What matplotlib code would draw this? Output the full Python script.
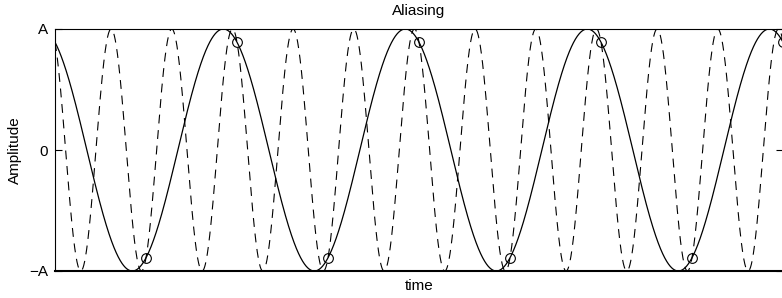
import numpy as np
import matplotlib
matplotlib.use("Agg")
import matplotlib.pyplot as plt

# ---- data ----
amplitude = 1.0                 # "A"
signal_freq = 1.0               # solid curve: cycles per time unit
alias_freq = 3.0                # dashed curve: cycles per time unit
phase_cycles = 0.075            # common phase offset (cycles)
time_span = [0.0, 4.0]
sample_times = [0.5, 1.0, 1.5, 2.0, 2.5, 3.0, 3.5, 4.0]
ytick_values = [-1.0, 0.0, 1.0]
ytick_labels = ["\u2212A", "0", "A"]

plt.rcParams['font.family'] = ['Liberation Sans', 'DejaVu Sans']

fig = plt.figure(figsize=(7.82, 2.98), dpi=100)
ax = fig.add_axes([55/782, 27/298, 728/782, 242/298])

t = np.linspace(time_span[0], time_span[1], 4000)
phi = 2*np.pi*phase_cycles
solid = amplitude*np.cos(2*np.pi*signal_freq*t + phi)
dashed = amplitude*np.cos(2*np.pi*alias_freq*t + phi)
ts = np.array(sample_times)
samples = amplitude*np.cos(2*np.pi*signal_freq*ts + phi)

ax.plot(t, dashed, color='black', lw=0.8, linestyle=(0, (8, 6)))
ax.plot(t, solid, color='black', lw=0.9)
ax.plot(ts, samples, 'o', mfc='none', mec='black', ms=7, mew=0.8, clip_on=False)

ax.set_xlim(time_span)
ax.set_ylim(-amplitude, amplitude)
ax.set_xticks([])
ax.set_yticks(ytick_values)
ax.set_yticklabels(ytick_labels)
ax.tick_params(axis='y', direction='in', length=5, width=0.8, right=True,
               labelsize=11, pad=5)
for s in ['top', 'left', 'right']:
    ax.spines[s].set_linewidth(0.8)
ax.spines['bottom'].set_linewidth(1.5)

ax.set_title("Aliasing", fontsize=11, pad=10)
ax.set_xlabel("time", fontsize=11, labelpad=6)
ax.set_ylabel("Amplitude", fontsize=11, labelpad=5)

fig.savefig("out.png", dpi=100)
